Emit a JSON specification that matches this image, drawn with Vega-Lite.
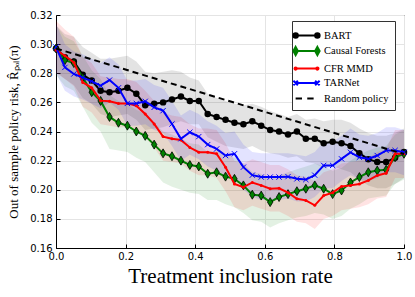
{
  "$schema": "https://vega.github.io/schema/vega-lite/v6.json",
  "autosize": "none",
  "width": 348,
  "height": 233,
  "padding": {"left": 56, "top": 15, "right": 11, "bottom": 49},
  "background": "white",
  "config": {
    "view": {"stroke": "black", "strokeWidth": 1},
    "axis": {
      "gridColor": "#e4e4e4", "gridWidth": 1, "domainColor": "black", "tickColor": "black",
      "labelColor": "black", "labelFont": "DejaVu Sans", "labelFontSize": 10,
      "titleColor": "black", "titleFont": "Liberation Serif", "titleFontWeight": "normal"
    },
    "legend": {"labelFont": "Liberation Serif", "labelFontSize": 10.5, "labelColor": "black"}
  },
  "data": {"values": [
    {"model":"BART","x":0,"y":0.297,"lo":0.281,"hi":0.313},
    {"model":"BART","x":0.0256,"y":0.291,"lo":0.276,"hi":0.307},
    {"model":"BART","x":0.0513,"y":0.288,"lo":0.272,"hi":0.305},
    {"model":"BART","x":0.0769,"y":0.279,"lo":0.263,"hi":0.298},
    {"model":"BART","x":0.1026,"y":0.275,"lo":0.259,"hi":0.294},
    {"model":"BART","x":0.1282,"y":0.268,"lo":0.252,"hi":0.290},
    {"model":"BART","x":0.1538,"y":0.267,"lo":0.250,"hi":0.290},
    {"model":"BART","x":0.1795,"y":0.268,"lo":0.251,"hi":0.291},
    {"model":"BART","x":0.2051,"y":0.270,"lo":0.252,"hi":0.292},
    {"model":"BART","x":0.2308,"y":0.266,"lo":0.248,"hi":0.288},
    {"model":"BART","x":0.2564,"y":0.258,"lo":0.241,"hi":0.281},
    {"model":"BART","x":0.2821,"y":0.259,"lo":0.242,"hi":0.280},
    {"model":"BART","x":0.3077,"y":0.260,"lo":0.243,"hi":0.281},
    {"model":"BART","x":0.3333,"y":0.262,"lo":0.245,"hi":0.282},
    {"model":"BART","x":0.359,"y":0.264,"lo":0.247,"hi":0.281},
    {"model":"BART","x":0.3846,"y":0.261,"lo":0.245,"hi":0.277},
    {"model":"BART","x":0.4103,"y":0.261,"lo":0.245,"hi":0.275},
    {"model":"BART","x":0.4359,"y":0.252,"lo":0.236,"hi":0.266},
    {"model":"BART","x":0.4615,"y":0.250,"lo":0.233,"hi":0.263},
    {"model":"BART","x":0.4872,"y":0.248,"lo":0.230,"hi":0.261},
    {"model":"BART","x":0.5128,"y":0.246,"lo":0.229,"hi":0.259},
    {"model":"BART","x":0.5385,"y":0.245,"lo":0.228,"hi":0.258},
    {"model":"BART","x":0.5641,"y":0.247,"lo":0.230,"hi":0.259},
    {"model":"BART","x":0.5897,"y":0.244,"lo":0.227,"hi":0.257},
    {"model":"BART","x":0.6154,"y":0.241,"lo":0.225,"hi":0.254},
    {"model":"BART","x":0.641,"y":0.240,"lo":0.224,"hi":0.252},
    {"model":"BART","x":0.6667,"y":0.238,"lo":0.222,"hi":0.250},
    {"model":"BART","x":0.6923,"y":0.240,"lo":0.223,"hi":0.252},
    {"model":"BART","x":0.7179,"y":0.235,"lo":0.219,"hi":0.248},
    {"model":"BART","x":0.7436,"y":0.235,"lo":0.218,"hi":0.249},
    {"model":"BART","x":0.7692,"y":0.232,"lo":0.215,"hi":0.247},
    {"model":"BART","x":0.7949,"y":0.233,"lo":0.216,"hi":0.248},
    {"model":"BART","x":0.8205,"y":0.232,"lo":0.214,"hi":0.248},
    {"model":"BART","x":0.8462,"y":0.230,"lo":0.212,"hi":0.246},
    {"model":"BART","x":0.8718,"y":0.225,"lo":0.207,"hi":0.242},
    {"model":"BART","x":0.8974,"y":0.221,"lo":0.203,"hi":0.239},
    {"model":"BART","x":0.9231,"y":0.219,"lo":0.201,"hi":0.237},
    {"model":"BART","x":0.9487,"y":0.219,"lo":0.201,"hi":0.237},
    {"model":"BART","x":0.9744,"y":0.222,"lo":0.204,"hi":0.239},
    {"model":"BART","x":1,"y":0.226,"lo":0.208,"hi":0.242},
    {"model":"Causal Forests","x":0,"y":0.297,"lo":0.279,"hi":0.313},
    {"model":"Causal Forests","x":0.0256,"y":0.289,"lo":0.271,"hi":0.305},
    {"model":"Causal Forests","x":0.0513,"y":0.287,"lo":0.268,"hi":0.302},
    {"model":"Causal Forests","x":0.0769,"y":0.277,"lo":0.257,"hi":0.292},
    {"model":"Causal Forests","x":0.1026,"y":0.267,"lo":0.246,"hi":0.282},
    {"model":"Causal Forests","x":0.1282,"y":0.261,"lo":0.240,"hi":0.276},
    {"model":"Causal Forests","x":0.1538,"y":0.250,"lo":0.228,"hi":0.265},
    {"model":"Causal Forests","x":0.1795,"y":0.246,"lo":0.227,"hi":0.261},
    {"model":"Causal Forests","x":0.2051,"y":0.244,"lo":0.226,"hi":0.259},
    {"model":"Causal Forests","x":0.2308,"y":0.240,"lo":0.222,"hi":0.255},
    {"model":"Causal Forests","x":0.2564,"y":0.237,"lo":0.219,"hi":0.252},
    {"model":"Causal Forests","x":0.2821,"y":0.231,"lo":0.212,"hi":0.246},
    {"model":"Causal Forests","x":0.3077,"y":0.225,"lo":0.205,"hi":0.240},
    {"model":"Causal Forests","x":0.3333,"y":0.223,"lo":0.202,"hi":0.238},
    {"model":"Causal Forests","x":0.359,"y":0.220,"lo":0.200,"hi":0.235},
    {"model":"Causal Forests","x":0.3846,"y":0.217,"lo":0.198,"hi":0.232},
    {"model":"Causal Forests","x":0.4103,"y":0.216,"lo":0.197,"hi":0.231},
    {"model":"Causal Forests","x":0.4359,"y":0.211,"lo":0.193,"hi":0.226},
    {"model":"Causal Forests","x":0.4615,"y":0.212,"lo":0.193,"hi":0.227},
    {"model":"Causal Forests","x":0.4872,"y":0.209,"lo":0.190,"hi":0.224},
    {"model":"Causal Forests","x":0.5128,"y":0.2075,"lo":0.188,"hi":0.222},
    {"model":"Causal Forests","x":0.5385,"y":0.203,"lo":0.184,"hi":0.218},
    {"model":"Causal Forests","x":0.5641,"y":0.1966,"lo":0.179,"hi":0.212},
    {"model":"Causal Forests","x":0.5897,"y":0.196,"lo":0.178,"hi":0.211},
    {"model":"Causal Forests","x":0.6154,"y":0.1915,"lo":0.174,"hi":0.207},
    {"model":"Causal Forests","x":0.641,"y":0.195,"lo":0.177,"hi":0.210},
    {"model":"Causal Forests","x":0.6667,"y":0.197,"lo":0.179,"hi":0.212},
    {"model":"Causal Forests","x":0.6923,"y":0.199,"lo":0.181,"hi":0.214},
    {"model":"Causal Forests","x":0.7179,"y":0.2007,"lo":0.182,"hi":0.216},
    {"model":"Causal Forests","x":0.7436,"y":0.203,"lo":0.184,"hi":0.218},
    {"model":"Causal Forests","x":0.7692,"y":0.2007,"lo":0.183,"hi":0.216},
    {"model":"Causal Forests","x":0.7949,"y":0.197,"lo":0.180,"hi":0.213},
    {"model":"Causal Forests","x":0.8205,"y":0.1995,"lo":0.182,"hi":0.215},
    {"model":"Causal Forests","x":0.8462,"y":0.205,"lo":0.187,"hi":0.220},
    {"model":"Causal Forests","x":0.8718,"y":0.2087,"lo":0.190,"hi":0.224},
    {"model":"Causal Forests","x":0.8974,"y":0.212,"lo":0.194,"hi":0.227},
    {"model":"Causal Forests","x":0.9231,"y":0.2132,"lo":0.195,"hi":0.229},
    {"model":"Causal Forests","x":0.9487,"y":0.2137,"lo":0.196,"hi":0.230},
    {"model":"Causal Forests","x":0.9744,"y":0.2223,"lo":0.204,"hi":0.238},
    {"model":"Causal Forests","x":1,"y":0.2247,"lo":0.207,"hi":0.241},
    {"model":"CFR MMD","x":0,"y":0.296,"lo":0.280,"hi":0.316},
    {"model":"CFR MMD","x":0.0256,"y":0.292,"lo":0.276,"hi":0.310},
    {"model":"CFR MMD","x":0.0513,"y":0.2874,"lo":0.271,"hi":0.305},
    {"model":"CFR MMD","x":0.0769,"y":0.2737,"lo":0.257,"hi":0.291},
    {"model":"CFR MMD","x":0.1026,"y":0.270,"lo":0.253,"hi":0.287},
    {"model":"CFR MMD","x":0.1282,"y":0.2612,"lo":0.245,"hi":0.278},
    {"model":"CFR MMD","x":0.1538,"y":0.2607,"lo":0.244,"hi":0.277},
    {"model":"CFR MMD","x":0.1795,"y":0.2593,"lo":0.243,"hi":0.276},
    {"model":"CFR MMD","x":0.2051,"y":0.2593,"lo":0.243,"hi":0.276},
    {"model":"CFR MMD","x":0.2308,"y":0.2577,"lo":0.241,"hi":0.274},
    {"model":"CFR MMD","x":0.2564,"y":0.252,"lo":0.236,"hi":0.268},
    {"model":"CFR MMD","x":0.2821,"y":0.2452,"lo":0.229,"hi":0.261},
    {"model":"CFR MMD","x":0.3077,"y":0.2365,"lo":0.220,"hi":0.253},
    {"model":"CFR MMD","x":0.3333,"y":0.235,"lo":0.219,"hi":0.251},
    {"model":"CFR MMD","x":0.359,"y":0.2342,"lo":0.218,"hi":0.250},
    {"model":"CFR MMD","x":0.3846,"y":0.229,"lo":0.213,"hi":0.245},
    {"model":"CFR MMD","x":0.4103,"y":0.2258,"lo":0.210,"hi":0.242},
    {"model":"CFR MMD","x":0.4359,"y":0.2258,"lo":0.210,"hi":0.242},
    {"model":"CFR MMD","x":0.4615,"y":0.2247,"lo":0.208,"hi":0.241},
    {"model":"CFR MMD","x":0.4872,"y":0.2155,"lo":0.199,"hi":0.232},
    {"model":"CFR MMD","x":0.5128,"y":0.204,"lo":0.188,"hi":0.220},
    {"model":"CFR MMD","x":0.5385,"y":0.2018,"lo":0.186,"hi":0.218},
    {"model":"CFR MMD","x":0.5641,"y":0.205,"lo":0.189,"hi":0.221},
    {"model":"CFR MMD","x":0.5897,"y":0.203,"lo":0.187,"hi":0.219},
    {"model":"CFR MMD","x":0.6154,"y":0.2007,"lo":0.185,"hi":0.217},
    {"model":"CFR MMD","x":0.641,"y":0.201,"lo":0.185,"hi":0.217},
    {"model":"CFR MMD","x":0.6667,"y":0.198,"lo":0.182,"hi":0.214},
    {"model":"CFR MMD","x":0.6923,"y":0.1938,"lo":0.178,"hi":0.210},
    {"model":"CFR MMD","x":0.7179,"y":0.1927,"lo":0.177,"hi":0.209},
    {"model":"CFR MMD","x":0.7436,"y":0.1893,"lo":0.173,"hi":0.206},
    {"model":"CFR MMD","x":0.7692,"y":0.196,"lo":0.180,"hi":0.212},
    {"model":"CFR MMD","x":0.7949,"y":0.198,"lo":0.182,"hi":0.214},
    {"model":"CFR MMD","x":0.8205,"y":0.2023,"lo":0.186,"hi":0.218},
    {"model":"CFR MMD","x":0.8462,"y":0.203,"lo":0.187,"hi":0.219},
    {"model":"CFR MMD","x":0.8718,"y":0.204,"lo":0.188,"hi":0.220},
    {"model":"CFR MMD","x":0.8974,"y":0.2064,"lo":0.190,"hi":0.222},
    {"model":"CFR MMD","x":0.9231,"y":0.2098,"lo":0.194,"hi":0.226},
    {"model":"CFR MMD","x":0.9487,"y":0.2114,"lo":0.195,"hi":0.228},
    {"model":"CFR MMD","x":0.9744,"y":0.2247,"lo":0.208,"hi":0.241},
    {"model":"CFR MMD","x":1,"y":0.2247,"lo":0.208,"hi":0.241},
    {"model":"TARNet","x":0,"y":0.298,"lo":0.280,"hi":0.314},
    {"model":"TARNet","x":0.0256,"y":0.284,"lo":0.268,"hi":0.300},
    {"model":"TARNet","x":0.0513,"y":0.2795,"lo":0.264,"hi":0.295},
    {"model":"TARNet","x":0.0769,"y":0.277,"lo":0.262,"hi":0.293},
    {"model":"TARNet","x":0.1026,"y":0.2744,"lo":0.259,"hi":0.290},
    {"model":"TARNet","x":0.1282,"y":0.2715,"lo":0.256,"hi":0.287},
    {"model":"TARNet","x":0.1538,"y":0.2753,"lo":0.260,"hi":0.291},
    {"model":"TARNet","x":0.1795,"y":0.270,"lo":0.255,"hi":0.286},
    {"model":"TARNet","x":0.2051,"y":0.2593,"lo":0.244,"hi":0.275},
    {"model":"TARNet","x":0.2308,"y":0.2593,"lo":0.244,"hi":0.275},
    {"model":"TARNet","x":0.2564,"y":0.2607,"lo":0.245,"hi":0.276},
    {"model":"TARNet","x":0.2821,"y":0.2566,"lo":0.241,"hi":0.272},
    {"model":"TARNet","x":0.3077,"y":0.2543,"lo":0.239,"hi":0.270},
    {"model":"TARNet","x":0.3333,"y":0.2452,"lo":0.230,"hi":0.261},
    {"model":"TARNet","x":0.359,"y":0.235,"lo":0.220,"hi":0.251},
    {"model":"TARNet","x":0.3846,"y":0.2395,"lo":0.224,"hi":0.255},
    {"model":"TARNet","x":0.4103,"y":0.2365,"lo":0.221,"hi":0.252},
    {"model":"TARNet","x":0.4359,"y":0.231,"lo":0.216,"hi":0.247},
    {"model":"TARNet","x":0.4615,"y":0.228,"lo":0.213,"hi":0.244},
    {"model":"TARNet","x":0.4872,"y":0.2235,"lo":0.208,"hi":0.239},
    {"model":"TARNet","x":0.5128,"y":0.2247,"lo":0.209,"hi":0.240},
    {"model":"TARNet","x":0.5385,"y":0.2155,"lo":0.200,"hi":0.231},
    {"model":"TARNet","x":0.5641,"y":0.210,"lo":0.195,"hi":0.226},
    {"model":"TARNet","x":0.5897,"y":0.2087,"lo":0.193,"hi":0.225},
    {"model":"TARNet","x":0.6154,"y":0.2087,"lo":0.193,"hi":0.225},
    {"model":"TARNet","x":0.641,"y":0.2087,"lo":0.193,"hi":0.225},
    {"model":"TARNet","x":0.6667,"y":0.209,"lo":0.194,"hi":0.225},
    {"model":"TARNet","x":0.6923,"y":0.2075,"lo":0.192,"hi":0.224},
    {"model":"TARNet","x":0.7179,"y":0.207,"lo":0.192,"hi":0.223},
    {"model":"TARNet","x":0.7436,"y":0.210,"lo":0.195,"hi":0.226},
    {"model":"TARNet","x":0.7692,"y":0.2167,"lo":0.201,"hi":0.233},
    {"model":"TARNet","x":0.7949,"y":0.2167,"lo":0.201,"hi":0.233},
    {"model":"TARNet","x":0.8205,"y":0.2212,"lo":0.206,"hi":0.237},
    {"model":"TARNet","x":0.8462,"y":0.2257,"lo":0.210,"hi":0.242},
    {"model":"TARNet","x":0.8718,"y":0.2223,"lo":0.207,"hi":0.238},
    {"model":"TARNet","x":0.8974,"y":0.2212,"lo":0.206,"hi":0.237},
    {"model":"TARNet","x":0.9231,"y":0.2235,"lo":0.208,"hi":0.239},
    {"model":"TARNet","x":0.9487,"y":0.227,"lo":0.212,"hi":0.243},
    {"model":"TARNet","x":0.9744,"y":0.227,"lo":0.212,"hi":0.243},
    {"model":"TARNet","x":1,"y":0.2257,"lo":0.210,"hi":0.241},
    {"model":"Random policy","x":0,"y":0.297},
    {"model":"Random policy","x":1,"y":0.2245}
  ]},
  "encoding": {
    "x": {"field": "x", "type": "quantitative",
      "scale": {"domain": [0, 1], "nice": false, "zero": false},
      "axis": {"values": [0, 0.2, 0.4, 0.6, 0.8, 1.0], "format": ".1f", "title": "Treatment inclusion rate",
        "titleFontSize": 21, "titlePadding": 4, "tickSize": -4, "labelPadding": 7, "labelFlush": false}},
    "y": {"field": "y", "type": "quantitative",
      "scale": {"domain": [0.16, 0.32], "nice": false, "zero": false},
      "axis": {"values": [0.16, 0.18, 0.2, 0.22, 0.24, 0.26, 0.28, 0.3, 0.32], "format": ".2f",
        "title": "Out of sample policy risk, R̂ₚₒₗ(π)", "titleFontSize": 13, "titlePadding": 9,
        "tickSize": -4, "labelPadding": 8, "labelFlush": false}}
  },
  "layer": [
    {
      "transform": [{"filter": "datum.model !== 'Random policy'"}],
      "mark": {"type": "area", "fillOpacity": 0.11, "strokeWidth": 0},
      "encoding": {
        "y": {"field": "lo", "type": "quantitative", "title": "Out of sample policy risk, R̂ₚₒₗ(π)", "scale": {"domain": [0.16, 0.32], "nice": false, "zero": false}},
        "y2": {"field": "hi"},
        "color": {"field": "model", "type": "nominal"}
      }
    },
    {
      "transform": [{"filter": "datum.model === 'BART'"}],
      "mark": {"type": "line", "strokeWidth": 2},
      "encoding": {
        "color": {"field": "model", "type": "nominal",
          "scale": {"domain": ["BART", "Causal Forests", "CFR MMD", "TARNet", "Random policy"],
                    "range": ["black", "#008000", "#ff0000", "#0000ff", "black"]},
          "legend": {
            "title": null, "orient": "none", "legendX": 236, "legendY": 6,
            "strokeColor": "#333333", "fillColor": "white", "padding": 6, "cornerRadius": 0,
            "labelFont": "Liberation Serif", "labelFontSize": 10.5, "labelColor": "black",
            "symbolSize": 225, "symbolStrokeWidth": 2, "rowPadding": 0.5, "labelOffset": 9,
            "encode": {
              "labels": {"update": {"font": {"value": "Liberation Serif"}, "fontSize": {"value": 10.5}}},
              "symbols": {"update": {
              "shape": {"signal": "datum.value === 'BART' ? 'M-1.45,0H1.45M-1.75,0a0.3 0.3 0 1 0 0.6 0a0.3 0.3 0 1 0 -0.6 0M1.15,0a0.3 0.3 0 1 0 0.6 0a0.3 0.3 0 1 0 -0.6 0' : datum.value === 'Causal Forests' ? 'M-1.45,0H1.45M-1.45,-0.55L-1.15,0L-1.45,0.55L-1.75,0ZM1.45,-0.55L1.75,0L1.45,0.55L1.15,0Z' : datum.value === 'CFR MMD' ? 'M-1.45,0H1.45M-1.6,0a0.15 0.15 0 1 0 0.3 0a0.15 0.15 0 1 0 -0.3 0M1.3,0a0.15 0.15 0 1 0 0.3 0a0.15 0.15 0 1 0 -0.3 0' : datum.value === 'TARNet' ? 'M-1.45,0H1.45M-1.75,-0.3L-1.15,0.3M-1.75,0.3L-1.15,-0.3M1.15,-0.3L1.75,0.3M1.15,0.3L1.75,-0.3' : 'M-1.45,0H-0.6M0.1,0H0.95'"},
              "fill": {"scale": "color", "field": "value"},
              "stroke": {"scale": "color", "field": "value"},
              "strokeWidth": {"value": 2},
              "opacity": {"value": 1},
              "fillOpacity": {"value": 1},
              "strokeOpacity": {"value": 1}
            }}}
          }}
      }
    },
    {
      "transform": [{"filter": "datum.model === 'BART'"}],
      "mark": {"type": "point", "shape": "circle", "filled": true, "color": "black", "size": 42, "opacity": 1}
    },
    {
      "transform": [{"filter": "datum.model === 'Causal Forests'"}],
      "mark": {"type": "line", "strokeWidth": 2},
      "encoding": {"color": {"field": "model", "type": "nominal"}}
    },
    {
      "transform": [{"filter": "datum.model === 'Causal Forests'"}],
      "mark": {"type": "point", "shape": "M0,-1L0.6,0L0,1L-0.6,0Z", "filled": true, "fill": "#008000", "stroke": "black", "strokeWidth": 0.8, "size": 80, "opacity": 1}
    },
    {
      "transform": [{"filter": "datum.model === 'CFR MMD'"}],
      "mark": {"type": "line", "strokeWidth": 2},
      "encoding": {"color": {"field": "model", "type": "nominal"}}
    },
    {
      "transform": [{"filter": "datum.model === 'CFR MMD'"}],
      "mark": {"type": "point", "shape": "circle", "filled": true, "color": "#ff0000", "size": 9, "opacity": 1}
    },
    {
      "transform": [{"filter": "datum.model === 'TARNet'"}],
      "mark": {"type": "line", "strokeWidth": 2},
      "encoding": {"color": {"field": "model", "type": "nominal"}}
    },
    {
      "transform": [{"filter": "datum.model === 'TARNet'"}],
      "mark": {"type": "point", "shape": "M-1,-1L1,1M-1,1L1,-1", "filled": false, "stroke": "#0000ff", "strokeWidth": 1, "size": 28, "opacity": 1}
    },
    {
      "transform": [{"filter": "datum.model === 'Random policy'"}],
      "mark": {"type": "line", "strokeWidth": 2, "strokeDash": [6, 4]},
      "encoding": {"color": {"field": "model", "type": "nominal"}}
    }
  ]
}
